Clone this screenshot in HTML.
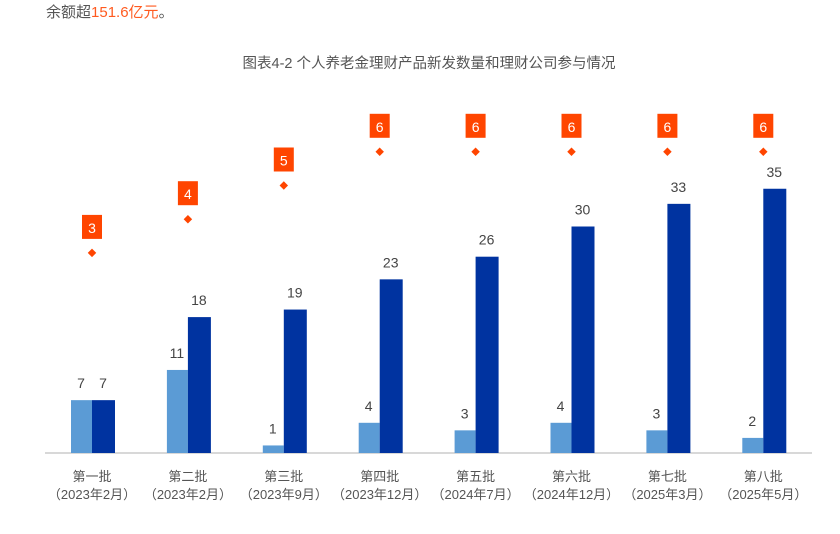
<!DOCTYPE html>
<html><head><meta charset="utf-8"><style>
body{margin:0;background:#fff;width:840px;height:534px;overflow:hidden;font-family:"Liberation Sans","Noto Sans CJK SC",sans-serif;}
</style></head><body>
<div style="position:absolute;left:46px;top:1px;font-size:15px;color:#555;">余额超<span style="color:#ff5a1f">151.6亿元</span>。</div>
<svg id="c" width="840" height="534" style="position:absolute;left:0;top:0" font-family="Liberation Sans, Noto Sans CJK SC, sans-serif">
<text x="429" y="68" text-anchor="middle" font-size="14.5" fill="#555">图表4-2 个人养老金理财产品新发数量和理财公司参与情况</text>
<line x1="45" y1="453" x2="812" y2="453" stroke="#ccc" stroke-width="1.5"/>
</svg>
<script>
const categories=["第一批","第二批","第三批","第四批","第五批","第六批","第七批","第八批"];
const dates=["（2023年2月）","（2023年2月）","（2023年9月）","（2023年12月）","（2024年7月）","（2024年12月）","（2025年3月）","（2025年5月）"];
const newProducts=[7,11,1,4,3,4,3,2];
const totalProducts=[7,18,19,23,26,30,33,35];
const companies=[3,4,5,6,6,6,6,6];
const svg=document.getElementById('c');
const NS='http://www.w3.org/2000/svg';
const xC=i=>92+i*95.9;
const yB=v=>453-v*7.55;
const yD=v=>354-v*33.7;
function mk(tag,attrs){const e=document.createElementNS(NS,tag);for(const k in attrs)e.setAttribute(k,attrs[k]);svg.appendChild(e);return e;}
categories.forEach((c,i)=>{
  const x=xC(i);
  let r=mk('rect',{x:x-21,y:yB(newProducts[i]),width:21,height:newProducts[i]*7.55,fill:'#5b9bd5'});
  
  
  r=mk('rect',{x:x,y:yB(totalProducts[i]),width:23,height:totalProducts[i]*7.55,fill:'#0033a0'});
  
  
  let t=mk('text',{x:x-11,y:yB(newProducts[i])-12,'text-anchor':'middle','font-size':14,fill:'#444'});t.textContent=newProducts[i];
  
  
  t=mk('text',{x:x+11,y:yB(totalProducts[i])-12,'text-anchor':'middle','font-size':14,fill:'#444'});t.textContent=totalProducts[i];
  
  
  const dy=yD(companies[i]);
  const d=mk('rect',{x:x-3,y:dy-3,width:6,height:6,fill:'#ff4500',transform:`rotate(45 ${x} ${dy})`});
  
  
  const b=mk('rect',{x:x-10,y:dy-38,width:20,height:24,fill:'#ff4500'});
  
  
  t=mk('text',{x:x,y:dy-20,'text-anchor':'middle','font-size':14,fill:'#fff'});t.textContent=companies[i];
  
  
  t=mk('text',{x:x,y:481,'text-anchor':'middle','font-size':13,fill:'#555'});t.textContent=c;
  
  
  t=mk('text',{x:x,y:499,'text-anchor':'middle','font-size':13,fill:'#555'});t.textContent=dates[i];
  
  
});
</script>
</body></html>
